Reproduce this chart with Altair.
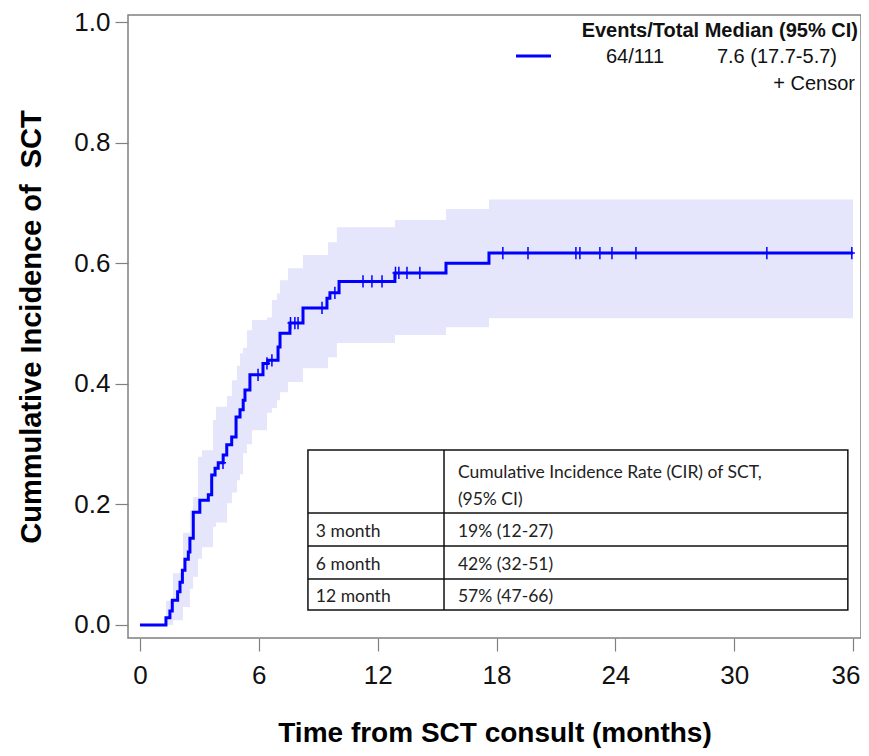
import altair as alt
import numpy as np
import pandas as pd

# ---- Cumulative incidence curve (step points) ----
cif_time = [0, 1.31, 1.51, 1.63, 1.90, 2.02, 2.14, 2.27, 2.44, 2.52, 2.69, 3.02,
            3.45, 3.62, 3.79, 3.95, 4.20, 4.38, 4.63, 4.85, 5.05, 5.21, 5.30, 5.55,
            6.21, 6.46, 6.97, 7.07, 7.57, 8.23, 9.44, 9.59, 10.05, 12.87, 15.45,
            17.62, 36.0]
cif_value = [0, 0.012, 0.023, 0.041, 0.055, 0.071, 0.091, 0.109, 0.121, 0.144, 0.187, 0.207,
             0.216, 0.249, 0.260, 0.269, 0.282, 0.299, 0.312, 0.345, 0.357, 0.373, 0.390, 0.415,
             0.434, 0.439, 0.461, 0.484, 0.501, 0.526, 0.542, 0.551, 0.570, 0.584, 0.600,
             0.617, 0.617]

# ---- 95% CI band (step points) ----
band_time = [0, 1.31, 1.67, 2.17, 2.52, 2.68, 2.93, 3.13, 3.69, 3.84, 4.39, 4.64, 4.90,
             5.05, 5.20, 5.40, 5.65, 6.41, 6.66, 6.92, 7.07, 7.47, 8.23, 9.49, 9.94,
             12.87, 15.45, 17.62, 36.0]
band_lower = [0, 0.0, 0.008, 0.03, 0.06, 0.08, 0.11, 0.129, 0.163, 0.17, 0.202, 0.22, 0.240,
              0.25, 0.285, 0.30, 0.323, 0.352, 0.36, 0.373, 0.386, 0.403, 0.426, 0.444, 0.468,
              0.481, 0.494, 0.509, 0.509]
band_upper = [0, 0.04, 0.086, 0.153, 0.19, 0.212, 0.279, 0.29, 0.340, 0.362, 0.38, 0.406, 0.43,
              0.451, 0.46, 0.489, 0.506, 0.51, 0.539, 0.55, 0.572, 0.592, 0.614, 0.635, 0.660,
              0.672, 0.690, 0.706, 0.706]

# ---- Censor times ----
censor_time = [4.19, 5.96, 6.41, 6.66, 7.60, 7.82, 7.98, 9.19, 9.84, 11.26, 11.71, 12.22,
               12.90, 13.07, 13.48, 14.13, 18.32, 19.59, 22.01, 22.21, 23.22, 23.83, 25.04,
               31.65, 35.94]

# ---- Inset table ----
table_rows = ["3 month", "6 month", "12 month"]
table_vals = ["19% (12-27)", "42% (32-51)", "57% (47-66)"]
table_header = ["Cumulative Incidence Rate (CIR) of SCT,", "(95% CI)"]

# ---- Legend texts ----
legend_header = "Events/Total Median (95% CI)"
legend_events = "64/111"
legend_median = "7.6 (17.7-5.7)"
legend_censor = "+ Censor"

x_ticks = [0, 6, 12, 18, 24, 30, 36]
y_ticks = [0.0, 0.2, 0.4, 0.6, 0.8, 1.0]

BLUE = "#0000FF"
BAND = "#E5E5FB"
FONT = "Liberation Sans"
TFONT = "Lato"

curve_df = pd.DataFrame({"t": cif_time, "v": cif_value})
band_df = pd.DataFrame({"t": band_time, "lo": band_lower, "hi": band_upper})
idx = np.searchsorted(np.array(cif_time), np.array(censor_time), side="right") - 1
censor_df = pd.DataFrame({"t": censor_time, "v": [cif_value[i] for i in idx]})

xscale = alt.Scale(domain=[-0.606, 36.404], nice=False, zero=False)
yscale = alt.Scale(domain=[-0.0216, 1.012], nice=False, zero=False)

xaxis = alt.Axis(values=x_ticks, title="Time from SCT consult (months)", grid=False,
                 domain=False, tickSize=13, tickColor="#808080", tickWidth=1.2,
                 labelFontSize=26, labelFont=FONT, labelColor="#111", labelPadding=11,
                 titleFont=FONT, titleFontSize=28, titleFontWeight="bold", titleColor="#000",
                 titlePadding=31, labelFlush=10, labelFlushOffset=7, format="d")
yaxis = alt.Axis(values=y_ticks, title="Cummulative Incidence of\u00a0 SCT", grid=False,
                 domain=False, tickSize=13, tickColor="#808080", tickWidth=1.2,
                 labelFontSize=26, labelFont=FONT, labelColor="#111", labelPadding=5,
                 titleFont=FONT, titleFontSize=29, titleFontWeight="bold", titleColor="#000",
                 titlePadding=27, format=".1f", labelFlush=False)


def X(field):
    return alt.X(field, type="quantitative", scale=xscale, axis=xaxis)


def Y(field):
    return alt.Y(field, type="quantitative", scale=yscale, axis=yaxis)


band = alt.Chart(band_df).mark_area(interpolate="step-after", color=BAND, opacity=1).encode(
    x=X("t"), y=Y("lo"), y2="hi")

line = alt.Chart(curve_df).mark_line(interpolate="step-after", color=BLUE, strokeWidth=3).encode(
    x=X("t"), y=Y("v"))

censor = alt.Chart(censor_df).mark_point(
    shape="M-0.5,0L0.5,0M0,-1L0,1", size=150, filled=False, color=BLUE, strokeWidth=1.5,
    opacity=1).encode(x=X("t"), y=Y("v"))

# table geometry in data coordinates
tx0, tx1, tx2 = 8.48, 15.35, 35.74
ty = [0.2902, 0.1857, 0.1310, 0.0763, 0.0249]
box_df = pd.DataFrame({"x": [tx0], "x2": [tx2], "y": [ty[0]], "y2": [ty[-1]]})
box = alt.Chart(box_df).mark_rect(fill="white", stroke="#111", strokeWidth=1.5).encode(
    x=X("x"), x2="x2", y=Y("y"), y2="y2")

hl_df = pd.DataFrame({"x": [tx0] * 3, "x2": [tx2] * 3, "y": ty[1:4]})
hlines = alt.Chart(hl_df).mark_rule(color="#111", strokeWidth=1.5).encode(
    x=X("x"), x2="x2", y=Y("y"))
vl_df = pd.DataFrame({"x": [tx1], "y": [ty[0]], "y2": [ty[-1]]})
vline = alt.Chart(vl_df).mark_rule(color="#111", strokeWidth=1.5).encode(
    x=X("x"), y=Y("y"), y2="y2")

text_x = [16.05, 16.05] + [8.88] * 3 + [16.05] * 3
text_y = [0.2438, 0.1990, 0.1459, 0.0912, 0.0381, 0.1459, 0.0912, 0.0381]
text_s = table_header + table_rows + table_vals
ttext_df = pd.DataFrame({"x": text_x, "y": text_y, "s": text_s})
ttext = alt.Chart(ttext_df).mark_text(align="left", baseline="alphabetic", font=TFONT,
                                      fontSize=17.5, color="#222").encode(
    x=X("x"), y=Y("y"), text="s:N")

# legend (pixel positions within plot area)
leg1 = alt.Chart(pd.DataFrame({"s": [legend_header]})).mark_text(
    align="right", baseline="alphabetic", font=FONT, fontSize=20, fontWeight="bold",
    color="#111").encode(x=alt.value(730), y=alt.value(22), text="s:N")
leg2 = alt.Chart(pd.DataFrame({"s": [legend_events]})).mark_text(
    align="center", baseline="alphabetic", font=FONT, fontSize=20, color="#111").encode(
    x=alt.value(507), y=alt.value(48), text="s:N")
leg3 = alt.Chart(pd.DataFrame({"s": [legend_median]})).mark_text(
    align="right", baseline="alphabetic", font=FONT, fontSize=20, color="#111").encode(
    x=alt.value(709), y=alt.value(48), text="s:N")
leg4 = alt.Chart(pd.DataFrame({"s": [legend_censor]})).mark_text(
    align="right", baseline="alphabetic", font=FONT, fontSize=20, color="#111").encode(
    x=alt.value(727), y=alt.value(75), text="s:N")
legline = alt.Chart(pd.DataFrame({"s": ["line"]})).mark_rule(color=BLUE, strokeWidth=3).encode(
    x=alt.value(388), x2=alt.value(423), y=alt.value(41))

chart = alt.layer(band, line, censor, box, hlines, vline, ttext,
                  leg1, leg2, leg3, leg4, legline).properties(
    width=733, height=623,
    padding={"left": 120, "top": 7, "right": 0, "bottom": 110},
    autosize=alt.AutoSizeParams(type="none"),
    background="white",
).configure_view(stroke="#808080", strokeWidth=1.5)

chart.save("out.html", embed_options={"renderer": "svg", "actions": False})
